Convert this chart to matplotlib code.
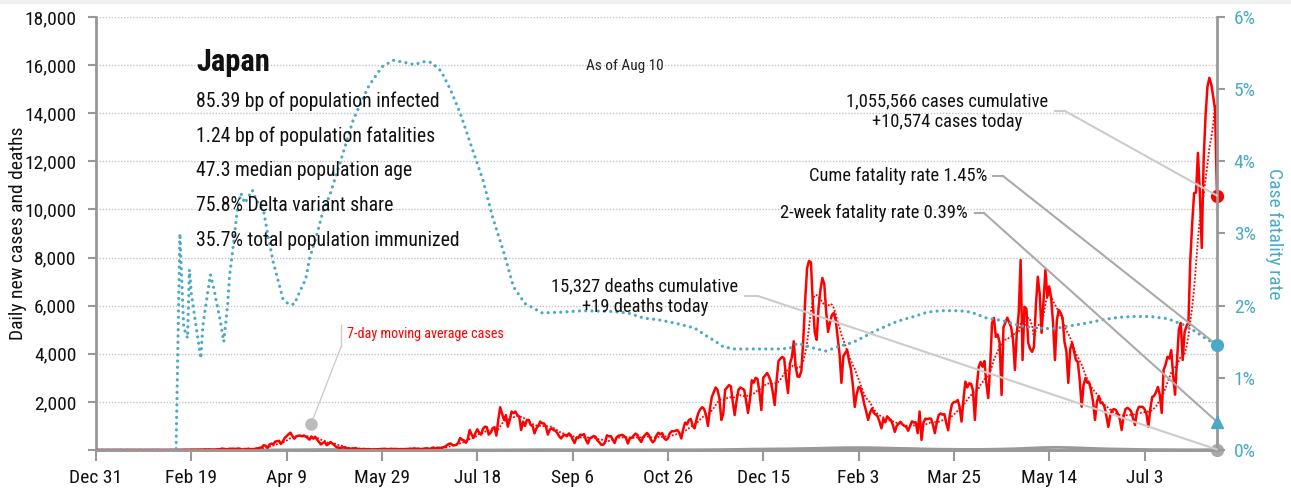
import numpy as np
import pandas as pd
import matplotlib
matplotlib.use("Agg")
import matplotlib.pyplot as plt

# daily new cases, Dec 31 2019 .. Aug 10 2021 (one list per month)
cases_2019_12 = [0]
cases_2020_01 = [0, 0, 0, 0, 0, 0, 0, 0, 0, 0, 0, 0, 0, 0, 1, 0, 0, 0, 0, 0,
                 0, 0, 0, 1, 0, 1, 0, 2, 3, 4, 1]
cases_2020_02 = [5, 0, 0, 0, 3, 0, 0, 0, 0, 0, 0, 1, 3, 4, 8, 12, 7, 7, 14, 10,
                 10, 13, 14, 13, 12, 25, 19, 24, 19]
cases_2020_03 = [14, 18, 14, 33, 31, 59, 47, 33, 26, 54, 52, 55, 41, 56, 61, 34, 15, 44, 39, 54,
                 35, 42, 36, 65, 71, 96, 112, 200, 173, 87, 224]
cases_2020_04 = [266, 235, 351, 363, 383, 252, 351, 503, 579, 658, 720, 580, 470, 560, 590, 600, 570, 600, 560, 500,
                 430, 560, 470, 550, 430, 330, 230, 300, 330, 200]
cases_2020_05 = [250, 330, 270, 200, 130, 100, 90, 100, 110, 90, 70, 60, 50, 60, 80, 50, 40, 30, 40, 40,
                 30, 40, 30, 20, 20, 30, 30, 40, 40, 50, 45]
cases_2020_06 = [35, 40, 50, 40, 45, 40, 30, 40, 35, 40, 40, 50, 55, 50, 70, 45, 60, 35, 40, 55,
                 70, 65, 40, 80, 105, 60, 95, 90, 85, 115]
cases_2020_07 = [130, 195, 250, 270, 210, 190, 220, 300, 500, 430, 400, 300, 450, 830, 650, 500, 700, 860, 720, 640,
                 880, 970, 950, 640, 720, 900, 950, 600, 1250, 1775, 1520]
cases_2020_08 = [1250, 1450, 970, 1240, 1600, 1530, 1600, 1450, 1390, 830, 1180, 1000, 1250, 1250, 1040, 1000, 690, 900, 1000, 1180,
                 1110, 1100, 970, 640, 850, 900, 830, 800, 700, 560, 480]
cases_2020_09 = [600, 630, 570, 690, 620, 440, 290, 510, 500, 640, 620, 660, 420, 270, 490, 520, 580, 550, 400, 320,
                 220, 220, 310, 610, 570, 580, 440, 290, 520, 590]
cases_2020_10 = [610, 630, 580, 490, 270, 490, 500, 600, 680, 630, 440, 330, 540, 620, 710, 620, 440, 320, 390, 610,
                 720, 650, 700, 490, 420, 480, 700, 780, 780, 800, 830]
cases_2020_11 = [700, 480, 860, 1140, 1060, 1250, 1290, 1000, 900, 1280, 1550, 1700, 1780, 1700, 1440, 1000, 1700, 2200, 2400, 2600,
                 2500, 2150, 1250, 1500, 2500, 2600, 2700, 2650, 2000, 1450]
cases_2020_12 = [2050, 2500, 2600, 2550, 2500, 2050, 1540, 2100, 2900, 2800, 3000, 2950, 2400, 1660, 3000, 3100, 3200, 3050, 2830, 2400,
                 1870, 2900, 3700, 3800, 3870, 3800, 2950, 2370, 3600, 3850, 4520]
cases_2021_01 = [3450, 3050, 3050, 3300, 4600, 6240, 7570, 7860, 7800, 6100, 4900, 4580, 5900, 6660, 7150, 6900, 5750, 4910, 5300, 5610,
                 5700, 5400, 4700, 4000, 2790, 3900, 4030, 4160, 3700, 3350, 2700]
cases_2021_02 = [1790, 2320, 2620, 2570, 2280, 1900, 1600, 1250, 1550, 1720, 1540, 1470, 1400, 1170, 900, 1300, 1150, 1400, 1300, 1240,
                 1040, 750, 1000, 1100, 1170, 1070, 1000, 960]
cases_2021_03 = [800, 990, 1190, 1140, 1150, 700, 1600, 420, 1130, 1300, 1280, 1310, 1300, 1050, 700, 1130, 1450, 1520, 1470, 1490,
                 1120, 820, 1520, 1910, 1990, 2000, 2080, 1780, 1180, 2080, 2840]
cases_2021_04 = [2600, 2770, 2750, 2470, 1250, 2650, 3450, 3660, 3460, 3700, 2780, 2160, 3450, 5280, 5490, 4700, 4800, 4450, 2290, 5100,
                 5300, 5500, 5300, 5110, 4600, 3330, 4870, 5700, 7900, 3740]
cases_2021_05 = [5950, 5880, 4450, 4200, 4080, 4290, 6000, 7200, 6500, 4870, 6200, 7490, 6370, 6800, 6330, 5280, 3740, 5400, 5820, 5700,
                 5490, 4500, 4100, 2790, 4200, 4450, 4100, 3740, 3660, 2900, 1800]
cases_2021_06 = [2700, 2990, 2800, 2790, 2450, 2000, 1250, 2000, 2250, 1950, 1950, 1790, 1400, 960, 1450, 1660, 1700, 1660, 1500, 1300,
                 830, 1400, 1700, 1750, 1700, 1600, 1300, 1040, 1600, 1790]
cases_2021_07 = [1800, 1790, 1700, 1500, 960, 1700, 2200, 2250, 2400, 2620, 2300, 1540, 3330, 3540, 3870, 3800, 4150, 3100, 2300, 3700,
                 5000, 5280, 3740, 4900, 5150, 5300, 7900, 9440, 10680, 10700, 12350]
cases_2021_08 = [10700, 8400, 12060, 13900, 15100, 15470, 15200, 14700, 14140, 10574]

# daily deaths, one value per week starting Dec 31 2019
deaths_weekly = [0, 0, 0, 0, 0, 0, 0, 1, 1, 1, 2, 2, 2, 3, 6, 10, 15, 20, 20, 15, 10,
                 5, 3, 2, 1, 1, 1, 1, 1, 1, 2, 5, 8, 12, 14, 12, 10, 8, 7, 6, 6, 5, 6, 6,
                 8, 10, 13, 18, 25, 35, 40, 45, 50, 60, 70, 85, 95, 100, 95, 85, 70,
                 60, 45, 35, 30, 25, 25, 30, 40, 55, 80, 100, 110, 100, 80, 60, 45,
                 35, 25, 18, 15, 12, 10, 10, 19]

# case fatality rate (%), day number counted from Dec 31 2019
cfr_day = [0, 42, 44, 46, 48, 49, 50, 53, 55, 56, 58, 60, 62, 63, 65, 67, 69, 70, 72, 74,
           76, 78, 82, 84, 88, 90, 93, 96, 98, 101, 104, 107, 110, 112, 116, 119, 123, 128, 135, 143,
           150, 156, 162, 167, 172, 176, 181, 186, 191, 197, 203, 208, 214, 219, 225, 234, 244, 255, 270, 279,
           287, 296, 305, 314, 319, 324, 329, 335, 345, 358, 364, 368, 373, 378, 383, 389, 397, 403, 408, 413,
           420, 429, 436, 443, 453, 459, 467, 476, 485, 494, 502, 511, 520, 529, 537, 545, 553, 562, 571, 578,
           583, 588]
cfr_pct = [0, 0, 3.0, 1.7, 1.55, 2.5, 2.17, 1.62, 1.27, 1.71, 2.08, 2.43, 2.22, 2.07, 1.82, 1.5, 2.0, 2.4, 2.83, 3.3,
           3.56, 3.42, 3.6, 3.47, 3.3, 3.0, 2.6, 2.3, 2.1, 2.02, 2.02, 2.2, 2.37, 2.65, 3.0, 3.3, 3.56, 3.98, 4.58, 5.04,
           5.31, 5.40, 5.37, 5.34, 5.38, 5.37, 5.25, 4.99, 4.67, 4.2, 3.74, 3.23, 2.73, 2.26, 2.03, 1.90, 1.91, 1.93, 1.92, 1.90,
           1.83, 1.80, 1.75, 1.69, 1.60, 1.52, 1.43, 1.40, 1.40, 1.40, 1.41, 1.48, 1.44, 1.40, 1.37, 1.43, 1.49, 1.57, 1.64, 1.70,
           1.78, 1.85, 1.91, 1.93, 1.93, 1.91, 1.83, 1.79, 1.72, 1.69, 1.68, 1.72, 1.76, 1.81, 1.84, 1.85, 1.85, 1.82, 1.73, 1.62,
           1.53, 1.455]
two_week_cfr = 0.39

stats = ["85.39 bp of population infected",
         "1.24 bp of population fatalities",
         "47.3 median population age",
         "75.8% Delta variant share",
         "35.7% total population immunized"]

RED = "#ff0000"
BLUE = "#4aaac6"
GRAY = "#999999"
LIGHT = "#cccccc"
INK = "#111111"

plt.rcParams['font.family'] = ['Roboto Condensed', 'Liberation Sans Narrow', 'DejaVu Sans']

cases = np.array(cases_2019_12 + cases_2020_01 + cases_2020_02 + cases_2020_03 + cases_2020_04 +
                 cases_2020_05 + cases_2020_06 + cases_2020_07 + cases_2020_08 + cases_2020_09 +
                 cases_2020_10 + cases_2020_11 + cases_2020_12 + cases_2021_01 + cases_2021_02 +
                 cases_2021_03 + cases_2021_04 + cases_2021_05 + cases_2021_06 + cases_2021_07 +
                 cases_2021_08, dtype=float)
start = pd.Timestamp("2019-12-31")
dates = pd.date_range(start, periods=len(cases), freq="D")
ma7 = pd.Series(cases).rolling(7, min_periods=1).mean()
death_dates = pd.date_range(start, periods=len(deaths_weekly), freq="7D")
cfr_dates = [start + pd.Timedelta(days=d) for d in cfr_day]

fig = plt.figure(figsize=(12.91, 4.88), dpi=100)
L, R, T, B = 96, 1217, 17, 450
W, H = 1291, 488
ax = fig.add_axes([L / W, (H - B) / H, (R - L) / W, (B - T) / H])
ax2 = ax.twinx()

# thin light band along the top edge
fig.patches.append(plt.Rectangle((0, 1 - 3 / H), 1, 3 / H, transform=fig.transFigure,
                                 color="#f0f0f0", zorder=0))


def px(x, y):
    # figure pixel -> axes fraction
    return (x - L) / (R - L), (B - y) / (B - T)


ax.plot(death_dates, deaths_weekly, color=GRAY, lw=2, zorder=3)
ax.plot(dates, ma7, color=RED, lw=1.3, linestyle=(0, (1, 1)), zorder=4)
ax.plot(dates, cases, color=RED, lw=1.8, zorder=5)
ax2.plot(cfr_dates, cfr_pct, color=BLUE, lw=2.3, linestyle=(0, (0.01, 1.95)),
         dash_capstyle="round", zorder=2)

ax.set_xlim(dates[0], dates[-1])
ax.set_ylim(0, 18000)
ax2.set_ylim(0, 6)

yt = np.arange(0, 18001, 2000)
ax.set_yticks(yt)
ax.set_yticklabels([""] + [f"{v:,}" for v in yt[1:]])
ax.yaxis.grid(True, linestyle=(0, (1, 1.2)), color="#c4c4c4", lw=1)
ax.set_axisbelow(True)
ax2.set_yticks(range(7))
ax2.set_yticklabels([f"{v}%" for v in range(7)])

xt = pd.date_range(start, periods=12, freq="50D")
ax.set_xticks(xt)
ax.set_xticklabels([f"{d:%b} {d.day}" for d in xt])

ax.tick_params(axis="y", length=6, width=1.5, color=GRAY, labelsize=14, pad=8, labelcolor=INK)
ax.tick_params(axis="x", length=8, width=1.5, color=GRAY, labelsize=14, pad=6, labelcolor=INK)
ax2.tick_params(axis="y", length=6, width=1.5, color=GRAY, labelsize=14, pad=6, labelcolor=BLUE)

for a in (ax, ax2):
    a.spines["top"].set_visible(False)
    for s in ("left", "right", "bottom"):
        a.spines[s].set_color(GRAY)
        a.spines[s].set_linewidth(2)
ax.spines["right"].set_visible(False)
ax2.spines["left"].set_visible(False)

ax.set_ylabel("Daily new cases and deaths", fontsize=14, color=INK)
ax.yaxis.set_label_coords(px(27, 0)[0], 0.5)
ax2.set_ylabel("Case fatality rate", fontsize=14, color=BLUE, rotation=270, va="center")
ax2.yaxis.set_label_coords(px(1274, 0)[0], 0.5)

# end-of-series markers
ax.plot(dates[-1], cases[-1], "o", color=RED, ms=8.5, clip_on=False, zorder=8)
ax.plot(dates[-1], deaths_weekly[-1], "o", color="#aaaaaa", ms=8.5, clip_on=False, zorder=8)
ax2.plot(dates[-1], cfr_pct[-1], "o", color=BLUE, ms=8.5, clip_on=False, zorder=8)
ax2.plot(dates[-1], two_week_cfr, "^", color=BLUE, ms=9, clip_on=False, zorder=8)

# title block
ax2.text(*px(196, 62), "Japan", transform=ax2.transAxes, fontsize=22, fontweight="bold",
         va="center", ha="left", color=INK)
for i, s in enumerate(stats):
    ax2.text(*px(196, 101 + 35 * i), s, transform=ax2.transAxes, fontsize=14.2,
             va="center", ha="left", color=INK)
ax2.text(*px(625, 66), "As of Aug 10", transform=ax2.transAxes, fontsize=11,
         va="center", ha="center", color="#222222")


def callout(axis, text, tx, ty, ha, x0, x1, y0, point, color):
    axis.text(*px(tx, ty), text, transform=axis.transAxes, fontsize=13.3, ha=ha,
              va="center", multialignment="center", color=INK, zorder=9)
    axis.plot([px(x0, y0)[0], px(x1, y0)[0]], [px(x0, y0)[1]] * 2,
              transform=axis.transAxes, color=color, lw=1.5, clip_on=False)
    axis.annotate("", xy=point, xycoords="data", xytext=px(x1, y0), textcoords="axes fraction",
                  arrowprops=dict(arrowstyle="-", color=color, lw=1.5, shrinkA=0, shrinkB=0))


callout(ax2, "1,055,566 cases cumulative\n+10,574 cases today", 947, 112, "center",
        1055, 1065, 111, (dates[-1], cases[-1] / 3000), LIGHT)
callout(ax2, "Cume fatality rate 1.45%", 987, 176, "right",
        993, 1003, 176, (dates[-1], cfr_pct[-1]), "#aaaaaa")
callout(ax2, "2-week fatality rate 0.39%", 968, 213, "right",
        975, 984, 213, (dates[-1], two_week_cfr), "#aaaaaa")
callout(ax2, "15,327 deaths cumulative\n+19 deaths today", 645, 297, "center",
        745, 758, 296, (dates[-1], deaths_weekly[-1] / 3000), LIGHT)

# moving-average label
ax2.text(*px(347, 334), "7-day moving average cases", transform=ax2.transAxes, fontsize=10.2,
         color=RED, va="center", ha="left")
ax2.plot([px(341, 325)[0]] * 2, [px(341, 325)[1], px(341, 347)[1]], transform=ax2.transAxes,
         color=LIGHT, lw=1)
ax2.plot([px(341, 347)[0], px(311, 424)[0]], [px(341, 347)[1], px(311, 424)[1]],
         transform=ax2.transAxes, color=LIGHT, lw=1)
ax2.plot(*px(311, 424), "o", transform=ax2.transAxes, color="#bbbbbb", ms=8)

fig.savefig("out.png", dpi=100)
